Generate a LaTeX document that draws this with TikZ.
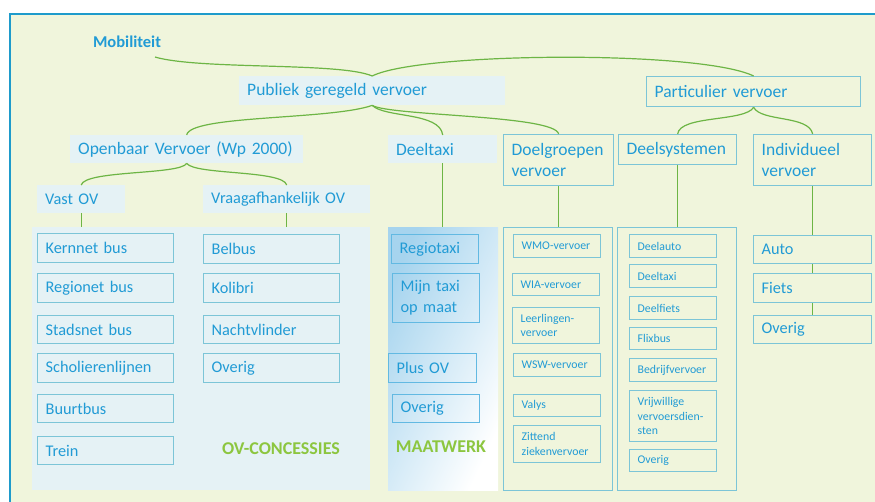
\documentclass[tikz,border=0pt]{standalone}
\usepackage{fontspec}
\setmainfont{Carlito}
\definecolor{achter}{HTML}{F0F5DC}
\definecolor{kader}{HTML}{1E9BCB}
\definecolor{tekst}{HTML}{219BD5}
\definecolor{vlak}{HTML}{E5F2F5}
\definecolor{rand}{HTML}{7CC5D7}
\definecolor{maatrand}{HTML}{62B9E2}
\definecolor{takgroen}{HTML}{6DB545}
\definecolor{labelgroen}{HTML}{8CC63F}
\definecolor{maat}{HTML}{A6D4EE}
\begin{document}
\begin{tikzpicture}[x=1pt, y=-1pt,
  every node/.style={text=tekst, align=left, inner xsep=8pt, inner ysep=0pt},
  groot/.style={font=\fontsize{17.5}{21}\selectfont},
  middel/.style={font=\fontsize{16.3}{21}\selectfont},
  klein/.style={font=\fontsize{11.8}{14.5}\selectfont},
  vol/.style={fill=vlak},
  lijn/.style={draw=rand, line width=1.3pt},
  lijnb/.style={draw=maatrand, line width=1.3pt},
  verloop/.style={top color=maat, bottom color=white, shading angle=65},
  tak/.style={draw=takgroen, line width=1.2pt},
  kop/.style={font=\bfseries\fontsize{18}{21}\selectfont, text=labelgroen, inner sep=0pt}]
\newcommand*\vak[7]{% style, name, x1, y1, x2, y2, text
  \pgfmathsetmacro\vakb{#5-#3-16}%
  \pgfmathsetmacro\vakh{#6-#4}%
  \node[#1, anchor=north west, text width=\vakb pt, minimum height=\vakh pt] (#2) at (#3,#4) {#7};}
\useasboundingbox (0,0) rectangle (875,502);
\fill[white] (0,0) rectangle (875,502);
\fill[achter] (10,14) rectangle (875,502);
\draw[kader, line width=2pt] (10,502) -- (10,14) -- (875,14); %frame
% panels
\vak{vol}{ovc}{32}{227}{370}{490}{}
\vak{verloop}{mw}{388}{227}{498}{490}{}
\vak{lijn}{dgp}{503}{227}{612}{490}{}
\vak{lijn}{dsp}{617}{227}{736}{490}{}
% top levels
\node[font=\bfseries\fontsize{16.5}{20}\selectfont, inner sep=0pt] (mob) at (127,42) {Mobiliteit};
\vak{groot,vol}{pgv}{239}{76}{505}{105}{Publiek geregeld vervoer}
\vak{groot,lijn}{par}{646}{76}{860}{106}{Particulier vervoer}
\vak{groot,vol}{ov}{70}{135}{303}{163}{Openbaar Vervoer (Wp 2000)}
\vak{groot,vol}{dt}{388}{135}{497}{163}{Deeltaxi}
\vak{groot,lijn}{dg}{503}{134}{613}{185}{Doelgroepen\\vervoer}
\vak{groot,lijn}{dsys}{618}{134}{736}{164}{Deelsystemen}
\vak{groot,lijn}{ind}{753}{134}{871}{185}{Individueel\\vervoer}
\vak{middel,vol}{vast}{37}{185}{125}{213}{Vast OV}
\vak{middel,vol}{vraag}{203}{185}{370}{213}{Vraagafhankelijk OV}
% OV-concessies
\vak{middel,lijn}{kern}{37}{233}{173}{262}{Kernnet bus}
\vak{middel,lijn}{regio}{37}{273}{173}{302}{Regionet bus}
\vak{middel,lijn}{stad}{37}{315}{173}{343}{Stadsnet bus}
\vak{middel,lijn}{schol}{37}{353}{173}{382}{Scholierenlijnen}
\vak{middel,lijn}{buurt}{37}{394}{173}{422}{Buurtbus}
\vak{middel,lijn}{trein}{37}{436}{173}{464}{Trein}
\vak{middel,lijn}{belbus}{203}{234}{339}{263}{Belbus}
\vak{middel,lijn}{kolibri}{203}{273}{339}{302}{Kolibri}
\vak{middel,lijn}{nacht}{203}{315}{339}{343}{Nachtvlinder}
\vak{middel,lijn}{overiga}{203}{353}{339}{382}{Overig}
\node[kop] (ovlabel) at (281,449) {OV-CONCESSIES};
% maatwerk
\vak{middel,lijnb}{regiotaxi}{391}{234}{478}{263}{Regiotaxi}
\vak{middel,lijnb}{mijntaxi}{392}{273}{479}{322}{Mijn taxi\\op maat}
\vak{middel,lijnb}{plusov}{388}{353}{476}{382}{Plus OV}
\vak{middel,lijnb}{overigb}{392}{394}{479}{422}{Overig}
\node[kop] (mwlabel) at (441,447) {MAATWERK};
% doelgroepen
\vak{klein,lijn}{wmo}{513}{234}{600}{257}{WMO-vervoer}
\vak{klein,lijn}{wia}{512}{273}{599}{295}{WIA-vervoer}
\vak{klein,lijn}{leer}{512}{307}{599}{343}{Leerlingen-\\vervoer}
\vak{klein,lijn}{wsw}{513}{353}{600}{376}{WSW-vervoer}
\vak{klein,lijn}{valys}{513}{394}{600}{416}{Valys}
\vak{klein,lijn}{zittend}{513}{425}{600}{462}{Zittend\\ziekenvervoer}
% deelsystemen
\vak{klein,lijn}{deelauto}{629}{234}{716}{257}{Deelauto}
\vak{klein,lijn}{deeltaxi}{629}{264}{716}{287}{Deeltaxi}
\vak{klein,lijn}{deelfiets}{629}{296}{716}{319}{Deelfiets}
\vak{klein,lijn}{flixbus}{629}{327}{716}{349}{Flixbus}
\vak{klein,lijn}{bedrijf}{629}{358}{716}{381}{Bedrijfvervoer}
\vak{klein,lijn}{vrijw}{629}{390}{716}{441}{Vrijwillige\\vervoersdien-\\sten}
\vak{klein,lijn}{overigc}{629}{449}{716}{471}{Overig}
% individueel
\vak{middel,lijn}{auto}{753}{235}{871}{263}{Auto}
\vak{middel,lijn}{fiets}{753}{273}{871}{302}{Fiets}
\vak{middel,lijn}{overigd}{753}{315}{871}{343}{Overig}
% braces
\draw[tak] ([shift={(28,9)}]mob.south) .. controls (200,70) and (340,62) .. (pgv.north);
\draw[tak] (pgv.north) .. controls (420,52) and (700,50) .. (par.north);
\draw[tak] (pgv.south) .. controls (330,120) and (190,115) .. (ov.north);
\draw[tak] (pgv.south) .. controls (385,118) and (440,112) .. (dt.north);
\draw[tak] (pgv.south) .. controls (390,116) and (555,115) .. (dg.north);
\draw[tak] (par.south) .. controls (745,122) and (680,115) .. (dsys.north);
\draw[tak] (par.south) .. controls (761,122) and (809,115) .. (ind.north);
\draw[tak] (ov.south) .. controls (180,175) and (85,170) .. (vast.north);
\draw[tak] (ov.south) .. controls (195,175) and (283,170) .. (vraag.north);
% stems
\draw[tak] (vast.south) -- (vast.south |- ovc.north);
\draw[tak] (vraag.south) -- (vraag.south |- ovc.north);
\draw[tak] (dt.south) -- (dt.south |- mw.north);
\draw[tak] (dg.south) -- (dg.south |- dgp.north);
\draw[tak] (dsys.south) -- (dsys.south |- dsp.north);
\draw[tak] (ind.south) -- (auto.north);
\draw[tak] (auto.south) -- (fiets.north);
\draw[tak] (fiets.south) -- (overigd.north);
\end{tikzpicture}
\end{document}
